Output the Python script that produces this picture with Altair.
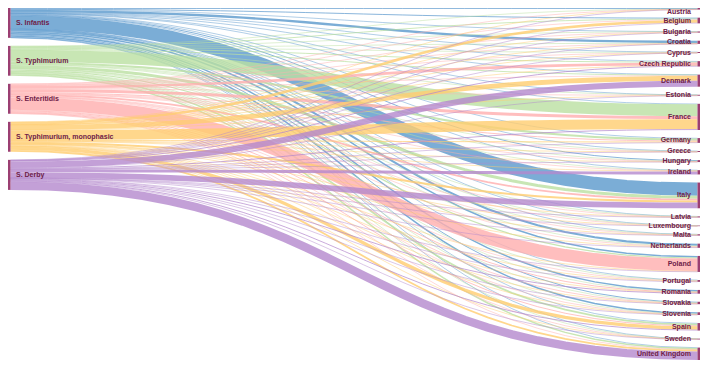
import altair as alt
import pandas as pd
import numpy as np

serovars = ["S. Infantis", "S. Typhimurium", "S. Enteritidis",
            "S. Typhimurium, monophasic", "S. Derby"]
countries = ["Austria", "Belgium", "Bulgaria", "Croatia", "Cyprus", "Czech Republic",
             "Denmark", "Estonia", "France", "Germany", "Greece", "Hungary", "Ireland",
             "Italy", "Latvia", "Luxembourg", "Malta", "Netherlands", "Poland",
             "Portugal", "Romania", "Slovakia", "Slovenia", "Spain", "Sweden",
             "United Kingdom"]

# share (%) of each serovar per country
infantis = [3, 3, 0.5, 8, 1, 2, 0.3, 0.5, 1.5, 1.5, 1, 3, 0.3, 44, 0.5, 0.3, 0.5, 7, 5,
            0.5, 5, 3, 5, 2, 0.3, 1]
typhimurium = [1, 3, 0.5, 1, 1, 3, 3, 0.5, 40, 7, 1, 1, 2, 10, 0.5, 0.5, 1.5, 2, 4,
               1.5, 1, 1, 1.5, 6, 1, 5]
enteritidis = [0.5, 2, 2, 1, 1, 9, 1, 1.5, 10, 3, 1, 1.5, 0.5, 6, 2, 0.5, 1, 2, 41.5,
               1.5, 3, 2.5, 1, 3, 0.5, 1.5]
monophasic = [0.5, 9, 0.5, 0.3, 0.3, 1, 16, 0.3, 33, 3, 0.3, 0.5, 1.5, 7, 0.3, 0.5, 1,
              1.5, 2, 2, 0.5, 0.5, 1, 11, 0.5, 6]
derby = [0.3, 2, 0.3, 0.3, 0.2, 3, 20, 0.3, 3, 1.5, 0.2, 0.5, 10, 19, 0.3, 0.2, 0.3,
         1.5, 1, 0.5, 3, 1, 0.5, 3, 0.5, 28]

flows = [infantis, typhimurium, enteritidis, monophasic, derby]
link_colors = ["#5a98cc", "#bae0a1", "#ffaeae", "#ffcd6f", "#b488cd"]

# ---- sankey layout (d3-sankey style, nodes stacked from top) ----
W, H = 692, 352
node_w = 2.5
pad = 8.1
total = float(sum(sum(f) for f in flows))
ky = (H - (len(countries) - 1) * pad) / total

src_tot = [sum(f) for f in flows]
tgt_tot = [sum(f[j] for f in flows) for j in range(len(countries))]

src_y0, y = [], 0.0
for v in src_tot:
    src_y0.append(y)
    y += v * ky + pad
tgt_y0, y = [], 0.0
for v in tgt_tot:
    tgt_y0.append(y)
    y += v * ky + pad

x0, x1 = node_w, W - node_w
xm = (x0 + x1) / 2
ts = np.linspace(0, 1, 28)

# source side: links leaving a source sorted by target order
src_off = [0.0] * len(serovars)
ya_map = {}
for i in range(len(serovars)):
    for j in range(len(countries)):
        w = flows[i][j] * ky
        ya_map[(i, j)] = src_y0[i] + src_off[i] + w / 2
        src_off[i] += w

# target side: links entering a target sorted by source order
tgt_off = [0.0] * len(countries)
yb_map = {}
for j in range(len(countries)):
    for i in range(len(serovars)):
        w = flows[i][j] * ky
        yb_map[(i, j)] = tgt_y0[j] + tgt_off[j] + w / 2
        tgt_off[j] += w

link_rows = []
lid = 0
for i in range(len(serovars)):
    for j in range(len(countries)):
        w = flows[i][j] * ky
        ya, yb = ya_map[(i, j)], yb_map[(i, j)]
        lid += 1
        for k, t in enumerate(ts):
            a = (1 - t) ** 3
            b = 3 * (1 - t) ** 2 * t
            c = 3 * (1 - t) * t ** 2
            d = t ** 3
            link_rows.append({"link": lid, "i": k,
                              "x": a * x0 + (b + c) * xm + d * x1,
                              "y": (a + b) * ya + (c + d) * yb,
                              "w": max(w, 0.6), "source": serovars[i],
                              "target": countries[j]})
links = pd.DataFrame(link_rows)

nodes = pd.DataFrame(
    [{"name": s, "x": 0.0, "x2": node_w, "y": src_y0[i],
      "y2": src_y0[i] + src_tot[i] * ky, "side": "L"} for i, s in enumerate(serovars)] +
    [{"name": c, "x": W - node_w, "x2": float(W), "y": tgt_y0[j],
      "y2": tgt_y0[j] + tgt_tot[j] * ky, "side": "R"} for j, c in enumerate(countries)])
nodes["yc"] = np.maximum((nodes["y"] + nodes["y2"]) / 2, 3.8)
nodes["lx"] = np.where(nodes["side"] == "L", 8.0, W - 9.0)

xs = alt.Scale(domain=[0, W], nice=False, zero=False)
ys = alt.Scale(domain=[0, H], nice=False, zero=False, reverse=True)

link_layer = alt.Chart(links).mark_line(opacity=0.8, strokeCap="butt").encode(
    x=alt.X("x:Q", scale=xs, axis=None),
    y=alt.Y("y:Q", scale=ys, axis=None),
    detail="link:N",
    order="i:Q",
    color=alt.Color("source:N", scale=alt.Scale(domain=serovars, range=link_colors),
                    legend=None),
    size=alt.Size("w:Q", scale=None, legend=None),
)

node_layer = alt.Chart(nodes).mark_rect(color="#9b3f72").encode(
    x=alt.X("x:Q", scale=xs, axis=None), x2="x2:Q",
    y=alt.Y("y:Q", scale=ys, axis=None), y2="y2:Q",
)

lab_font = dict(font="Liberation Sans", fontSize=7, fontWeight="bold",
                color="#6e2148", baseline="middle")
left_lab = alt.Chart(nodes[nodes["side"] == "L"]).mark_text(align="left", **lab_font).encode(
    x=alt.X("lx:Q", scale=xs, axis=None), y=alt.Y("yc:Q", scale=ys, axis=None),
    text="name:N")
right_lab = alt.Chart(nodes[nodes["side"] == "R"]).mark_text(align="right", **lab_font).encode(
    x=alt.X("lx:Q", scale=xs, axis=None), y=alt.Y("yc:Q", scale=ys, axis=None),
    text="name:N")

chart = alt.layer(link_layer, node_layer, left_lab, right_lab).properties(
    width=W, height=H, padding=0, autosize=alt.AutoSizeParams(type="none"),
).configure_view(stroke=None)

chart.save("out.html", embed_options={"renderer": "svg", "actions": False})
